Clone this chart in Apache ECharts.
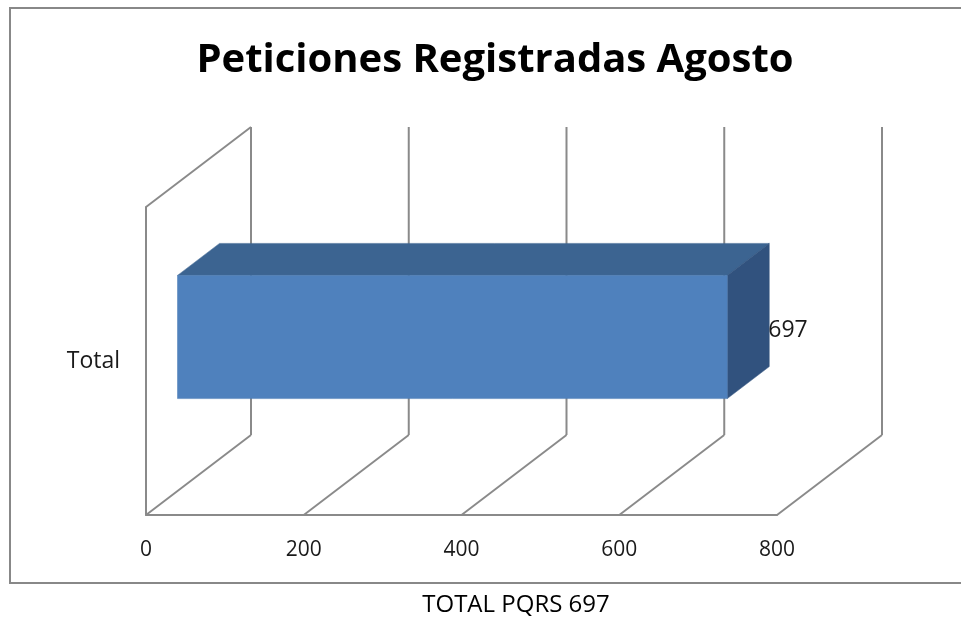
<!DOCTYPE html>
<html>
<head>
<meta charset="utf-8">
<script src="https://cdn.jsdelivr.net/npm/echarts@6/dist/echarts.min.js"></script>
<style>
html,body{margin:0;padding:0;background:#fff;}
#chart{width:961px;height:617px;}
</style>
</head>
<body>
<div id="chart"></div>
<script>
var titleText = 'Peticiones Registradas Agosto';
var footerText = 'TOTAL PQRS 697';
var categories = ['Total'];
var values = [697];
var xTicks = [0, 200, 400, 600, 800];

var FONT = '"Open Sans", "Liberation Sans", sans-serif';
var DEPTH_X = 105, DEPTH_Y = -80;      // 3D depth offset of the back wall
var BAR_FRONT = 0.30, BAR_BACK = 0.70; // bar depth fractions
var BAR_H = 0.40;                      // bar thickness as fraction of band
var LINE = '#8a8a8a';

var chart = echarts.init(document.getElementById('chart'), null, {renderer: 'canvas'});

function wallsItem(params, api) {
  var cs = params.coordSys;
  var v = api.value(0);
  var p = api.coord([v, categories[0]]);
  var floorY = cs.y + cs.height;
  var fx = p[0];
  var bx = fx + DEPTH_X, by = floorY + DEPTH_Y;
  var topY = cs.y + DEPTH_Y;
  var style = {stroke: LINE, lineWidth: 2, fill: null};
  var children = [
    {type: 'line', shape: {x1: fx, y1: floorY, x2: bx, y2: by}, style: style},
    {type: 'line', shape: {x1: bx, y1: by, x2: bx, y2: topY}, style: style}
  ];
  if (params.dataIndex === 0) {
    children.push({type: 'line', shape: {x1: fx, y1: cs.y, x2: bx, y2: topY}, style: style});
  }
  return {type: 'group', children: children};
}

function barItem(params, api) {
  var val = api.value(0);
  var cat = categories[api.value(1)];
  var p0 = api.coord([0, cat]);
  var p1 = api.coord([val, cat]);
  var band = api.size([0, 1])[1];
  var h = band * BAR_H;
  var fx0 = p0[0] + BAR_FRONT * DEPTH_X, fx1 = p1[0] + BAR_FRONT * DEPTH_X;
  var fcy = p0[1] + BAR_FRONT * DEPTH_Y;
  var ft = fcy - h / 2, fb = fcy + h / 2;
  var dx = (BAR_BACK - BAR_FRONT) * DEPTH_X, dy = (BAR_BACK - BAR_FRONT) * DEPTH_Y;
  return {
    type: 'group',
    children: [
      {type: 'polygon', shape: {points: [[fx0, ft], [fx0 + dx, ft + dy], [fx1 + dx, ft + dy], [fx1, ft]]},
        style: {fill: '#3c6491', stroke: '#3c6491', lineWidth: 0.5}},
      {type: 'polygon', shape: {points: [[fx1, ft], [fx1 + dx, ft + dy], [fx1 + dx, fb + dy], [fx1, fb]]},
        style: {fill: '#31527e', stroke: '#31527e', lineWidth: 0.5}},
      {type: 'rect', shape: {x: fx0, y: ft, width: fx1 - fx0, height: fb - ft},
        style: {fill: '#4f81bd', stroke: '#4a7bb5', lineWidth: 0.5}},
      {type: 'text', x: fx1 + dx - 1, y: fcy - 7,
        style: {text: String(val), fill: '#1a1a1a', font: '23px ' + FONT, verticalAlign: 'middle', align: 'left'}}
    ]
  };
}

var option = {
  animation: false,
  backgroundColor: '#fff',
  title: {
    text: titleText, left: 490, top: 36, textAlign: 'center',
    textStyle: {fontFamily: FONT, fontWeight: 'bold', fontSize: 40, color: '#000'}
  },
  graphic: [
    {type: 'rect', shape: {x: 10, y: 8, width: 960, height: 575},
      style: {fill: null, stroke: '#888', lineWidth: 2}},
    {type: 'text', x: 516, y: 605,
      style: {text: footerText, fill: '#000', font: '24px ' + FONT, align: 'center', verticalAlign: 'middle'}}
  ],
  grid: {left: 146, right: 184, top: 207, bottom: 102, containLabel: false},
  xAxis: {
    type: 'value', min: xTicks[0], max: xTicks[xTicks.length - 1], interval: xTicks[1] - xTicks[0],
    axisLine: {show: true, lineStyle: {color: LINE, width: 2}},
    axisTick: {show: false},
    splitLine: {show: false},
    axisLabel: {margin: 25, fontFamily: FONT, fontSize: 21, color: '#1a1a1a'}
  },
  yAxis: {
    type: 'category', data: categories,
    axisLine: {show: true, lineStyle: {color: LINE, width: 2}},
    axisTick: {show: false},
    axisLabel: {margin: 26, fontFamily: FONT, fontSize: 23, color: '#1a1a1a'}
  },
  series: [
    {type: 'custom', name: 'walls', renderItem: wallsItem, z: 1,
      data: xTicks.map(function (t) { return [t, 0]; })},
    {type: 'custom', name: 'Total', renderItem: barItem, z: 2,
      data: values.map(function (v, i) { return [v, i]; })}
  ]
};
chart.setOption(option);
</script>
</body>
</html>
